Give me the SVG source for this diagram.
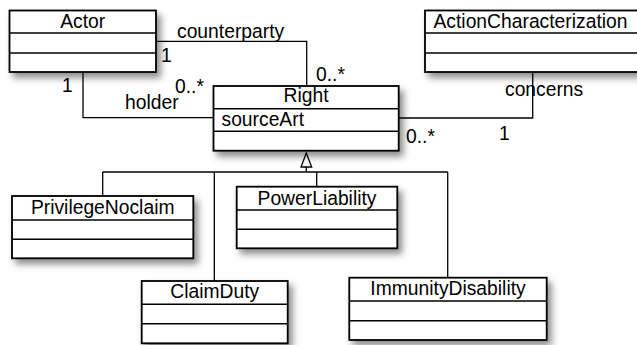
<svg xmlns="http://www.w3.org/2000/svg" width="637" height="345" viewBox="0 0 637 345">
  <style>
    .box { fill: #ffffff; stroke: #000000; stroke-width: 1.8; }
    .div { stroke: #000000; stroke-width: 1.5; fill: none; }
    .conn { stroke: #000000; stroke-width: 1.3; fill: none; }
    text { font-family: "Liberation Sans", Arial, Helvetica, sans-serif; font-size: 19.3px; fill: #000000; }
    .title { text-anchor: middle; }
  </style>
  <defs>
    <filter id="shadow" x="-10%" y="-20%" width="130%" height="160%">
      <feDropShadow dx="4" dy="5" stdDeviation="3.5" flood-color="#000000" flood-opacity="0.45"/>
    </filter>
  </defs>

  <rect width="637" height="345" fill="#ffffff"/>

  <!-- connectors -->
  <g id="connectors">
    <!-- counterparty: Actor to Right -->
    <polyline class="conn" points="156,41.3 306.7,41.3 306.7,86"/>
    <!-- holder: Actor to Right -->
    <polyline class="conn" points="83,72 83,117.7 213.5,117.7"/>
    <!-- concerns: Right to ActionCharacterization -->
    <polyline class="conn" points="398.7,118 532.7,118 532.7,72"/>
    <!-- generalization tree -->
    <polygon class="conn" points="306.3,153 301,167 311.7,167" fill="#ffffff"/>
    <line class="conn" x1="306.3" y1="167" x2="306.3" y2="172"/>
    <line class="conn" x1="102.7" y1="172" x2="447.7" y2="172"/>
    <line class="conn" x1="102.7" y1="172" x2="102.7" y2="196"/>
    <line class="conn" x1="316.7" y1="172" x2="316.7" y2="186.7"/>
    <line class="conn" x1="214.3" y1="172" x2="214.3" y2="281"/>
    <line class="conn" x1="447.7" y1="172" x2="447.7" y2="277.7"/>

    <text x="177" y="37.7">counterparty</text>
    <text x="161" y="62">1</text>
    <text x="316" y="81">0..*</text>
    <text x="62" y="92">1</text>
    <text x="125" y="109">holder</text>
    <text x="175" y="93">0..*</text>
    <text x="505" y="96">concerns</text>
    <text x="406" y="142.7">0..*</text>
    <text x="499" y="140">1</text>
  </g>

  <g id="actor">
    <rect class="box" x="9.5" y="10.5" width="146.5" height="61.5" filter="url(#shadow)"/>
    <line class="div" x1="9.5" y1="33" x2="156" y2="33"/>
    <line class="div" x1="9.5" y1="53" x2="156" y2="53"/>
    <text class="title" x="82.7" y="28.3">Actor</text>
  </g>

  <g id="action-characterization">
    <rect class="box" x="425" y="10.5" width="215" height="61.5" filter="url(#shadow)"/>
    <line class="div" x1="425" y1="33" x2="640" y2="33"/>
    <line class="div" x1="425" y1="53" x2="640" y2="53"/>
    <text class="title" x="530.5" y="28">ActionCharacterization</text>
  </g>

  <g id="right">
    <rect class="box" x="213.5" y="86" width="185.2" height="64.7" filter="url(#shadow)"/>
    <line class="div" x1="213.5" y1="108.7" x2="398.7" y2="108.7"/>
    <line class="div" x1="213.5" y1="131.3" x2="398.7" y2="131.3"/>
    <text class="title" x="306" y="101.7">Right</text>
    <text x="221.5" y="126">sourceArt</text>
  </g>

  <g id="privilege-noclaim">
    <rect class="box" x="12" y="196" width="181.3" height="62.3" filter="url(#shadow)"/>
    <line class="div" x1="12" y1="220" x2="193.3" y2="220"/>
    <line class="div" x1="12" y1="239.3" x2="193.3" y2="239.3"/>
    <text class="title" x="102.7" y="214">PrivilegeNoclaim</text>
  </g>

  <g id="power-liability">
    <rect class="box" x="236.7" y="186.7" width="160.6" height="61.6" filter="url(#shadow)"/>
    <line class="div" x1="236.7" y1="210" x2="397.3" y2="210"/>
    <line class="div" x1="236.7" y1="229.3" x2="397.3" y2="229.3"/>
    <text class="title" x="317" y="205">PowerLiability</text>
  </g>

  <g id="claim-duty">
    <rect class="box" x="141.7" y="281" width="146" height="62.3" filter="url(#shadow)"/>
    <line class="div" x1="141.7" y1="304.3" x2="287.7" y2="304.3"/>
    <line class="div" x1="141.7" y1="323.7" x2="287.7" y2="323.7"/>
    <text class="title" x="214.7" y="298.3">ClaimDuty</text>
  </g>

  <g id="immunity-disability">
    <rect class="box" x="349.3" y="277.7" width="197.4" height="62.3" filter="url(#shadow)"/>
    <line class="div" x1="349.3" y1="301" x2="546.7" y2="301"/>
    <line class="div" x1="349.3" y1="320.7" x2="546.7" y2="320.7"/>
    <text class="title" x="448" y="295">ImmunityDisability</text>
  </g>
</svg>
